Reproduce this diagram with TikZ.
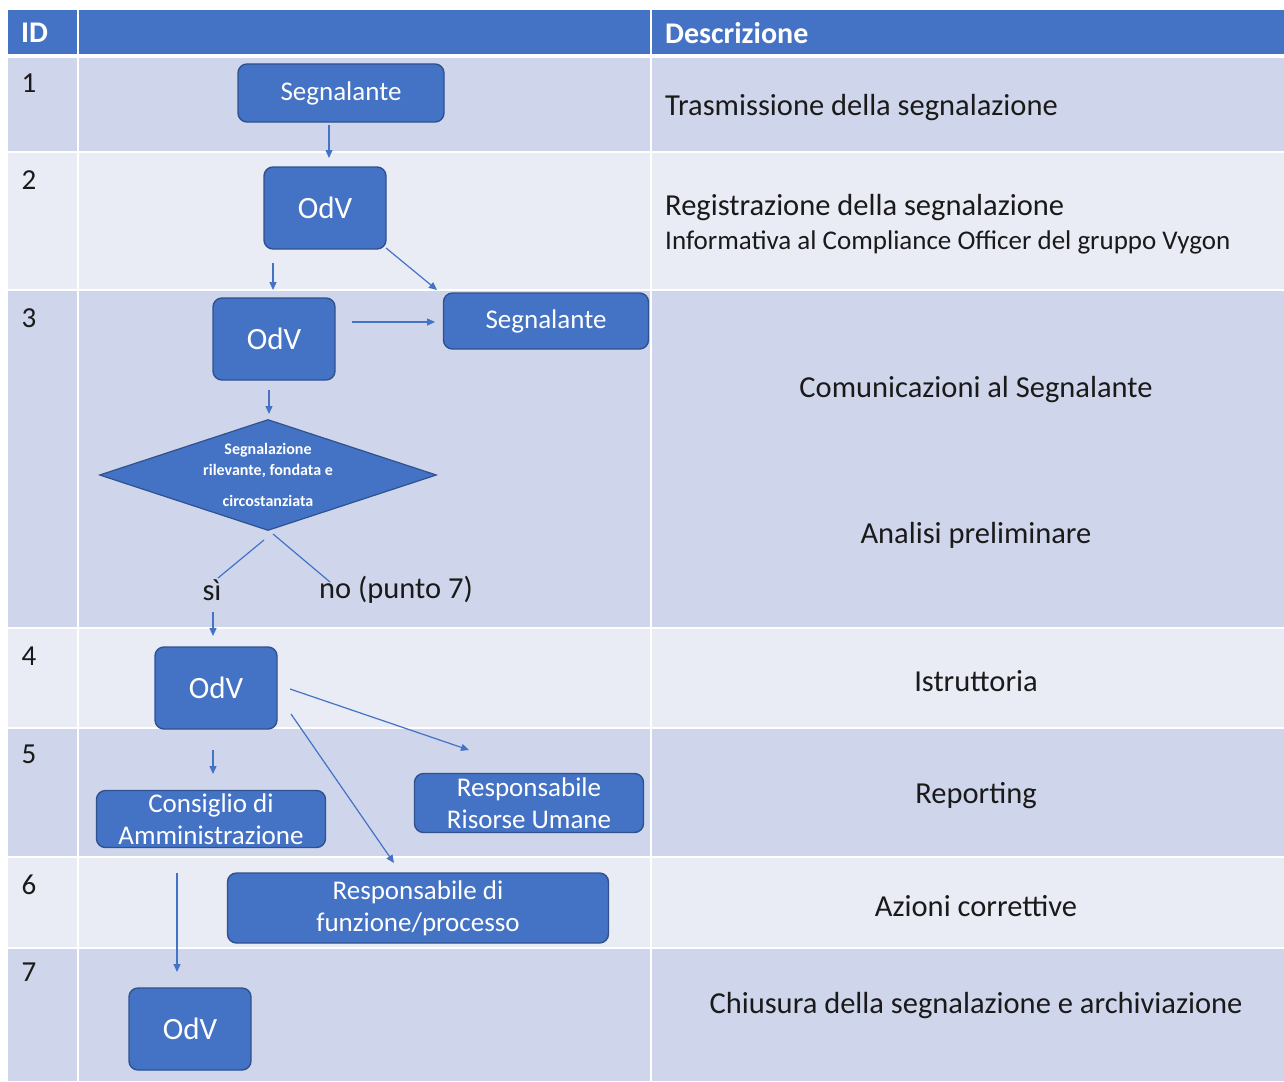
\documentclass[tikz,border=0pt]{standalone}
\usepackage{fontspec}
\setmainfont{Carlito}
\usepackage{xcolor}
\usetikzlibrary{shapes.geometric, arrows.meta}

\definecolor{boxblue}{HTML}{4472C4}
\definecolor{boxedge}{HTML}{2F528F}
\definecolor{banddark}{HTML}{CFD5EA}
\definecolor{bandlight}{HTML}{E9EBF5}
\definecolor{inkgray}{HTML}{1A1A1A}

\begin{document}
\begin{tikzpicture}[x=1pt, y=-1pt,
        box/.style={rectangle, rounded corners=9pt, draw=boxedge, line width=1.4pt, fill=boxblue,
            text=white, inner sep=0pt, align=center, font=\fontsize{27}{32}\selectfont},
        odv/.style={box, minimum width=122, minimum height=82, font=\fontsize{31}{34}\selectfont},
        choice/.style={diamond, aspect=3.04, draw=boxedge, line width=1.2pt, fill=boxblue, text=white,
            inner sep=0pt, minimum width=337, minimum height=111, align=center,
            font=\fontsize{16}{21}\selectfont\bfseries},
        desc/.style={text=inkgray, inner sep=0pt, font=\fontsize{30.5}{34}\selectfont},
        small/.style={text=inkgray, inner sep=0pt, font=\fontsize{27}{30}\selectfont},
        idnum/.style={text=inkgray, inner sep=0pt, font=\fontsize{29}{32}\selectfont},
        head/.style={text=white, inner sep=0pt, font=\fontsize{30}{32}\selectfont\bfseries},
        arrow/.style={draw=boxblue, line width=1.2pt, -{Triangle[width=7pt,length=8pt]}},
        link/.style={draw=boxblue, line width=1.2pt}
    ]
    \useasboundingbox (0,0) rectangle (1284,1081);
    \fill[white] (0,0) rectangle (1284,1081);

    % table bands
    \fill[boxblue] (8,10) rectangle (1284,55);
    \fill[banddark] (8,55) rectangle (1284,152);
    \fill[bandlight] (8,152) rectangle (1284,290);
    \fill[banddark] (8,290) rectangle (1284,628);
    \fill[bandlight] (8,628) rectangle (1284,728);
    \fill[banddark] (8,728) rectangle (1284,857);
    \fill[bandlight] (8,857) rectangle (1284,948);
    \fill[banddark] (8,948) rectangle (1284,1081);
    \draw[white, line width=4pt] (8,56) -- (1284,56);
    \foreach \y in {152,290,628,728,857,948}
        \draw[white, line width=2pt] (8,\y) -- (1284,\y);
    \draw[white, line width=2.5pt] (78,10) -- (78,1081);
    \draw[white, line width=2.5pt] (651,10) -- (651,1081);

    \node[head, anchor=west] (hid) at (21,33) {ID};
    \node[head, anchor=west] (hdesc) at (665,33) {Descrizione};

    \node[idnum] (id1) at (29,83) {1};
    \node[idnum] (id2) at (29,180) {2};
    \node[idnum] (id3) at (29,318) {3};
    \node[idnum] (id4) at (29,656) {4};
    \node[idnum] (id5) at (29,754) {5};
    \node[idnum] (id6) at (29,885) {6};
    \node[idnum] (id7) at (29,972) {7};

    % descriptions
    \node[desc, anchor=west] (d1) at (665,108) {Trasmissione della segnalazione};
    \node[desc, anchor=west] (d2) at (665,208) {Registrazione della segnalazione};
    \node[small, anchor=west] (d2b) at (665,242) {Informativa al Compliance Officer del gruppo Vygon};
    \node[desc] (d3) at (976,390) {Comunicazioni al Segnalante};
    \node[desc] (d3b) at (976,535) {Analisi preliminare};
    \node[desc] (d4) at (976,681) {Istruttoria};
    \node[desc] (d5) at (976,796) {Reporting};
    \node[desc] (d6) at (976,906) {Azioni correttive};
    \node[desc] (d7) at (976,1006) {Chiusura della segnalazione e archiviazione};

    % flow
    \node[box, minimum width=206, minimum height=58] (seg1) at (341,93) {Segnalante};
    \node[odv] (odv2) at (325,208) {OdV};
    \node[box, minimum width=205, minimum height=56] (seg3) at (546,321) {Segnalante};
    \node[odv] (odv3) at (274,339) {OdV};
    \node[choice] (check) at (268,475) {Segnalazione\\rilevante, fondata e\\[10pt]circostanziata};
    \node[desc] (yes) at (212,590) {sì};
    \node[desc] (no) at (396,590) {no (punto 7)};
    \node[odv] (odv4) at (216,688) {OdV};
    \node[box, minimum width=229, minimum height=57] (cda) at (211,819) {Consiglio di\\Amministrazione};
    \node[box, minimum width=229, minimum height=59] (hr) at (529,803) {Responsabile\\Risorse Umane};
    \node[box, minimum width=381, minimum height=70] (func) at (418,908) {Responsabile di\\funzione/processo};
    \node[odv] (odv7) at (190,1029) {OdV};

    \coordinate (a1s) at (329,125);  \coordinate (a1e) at (329,158);
    \coordinate (a2s) at (273,263);  \coordinate (a2e) at (273,290);
    \coordinate (a3s) at (386,248);  \coordinate (a3e) at (437,290);
    \coordinate (a4s) at (352,322);  \coordinate (a4e) at (435,322);
    \coordinate (a5s) at (269,390);  \coordinate (a5e) at (269,414);
    \coordinate (l1s) at (264,540);  \coordinate (l1e) at (218,578);
    \coordinate (l2s) at (273,534);  \coordinate (l2e) at (330,582);
    \coordinate (a6s) at (213,612);  \coordinate (a6e) at (213,636);
    \coordinate (a7s) at (290,689);  \coordinate (a7e) at (469,750);
    \coordinate (a8s) at (291,714);  \coordinate (a8e) at (394,863);
    \coordinate (a9s) at (213,750);  \coordinate (a9e) at (213,774);
    \coordinate (a10s) at (177,873); \coordinate (a10e) at (177,972);

    \draw[arrow] (a1s) -- (a1e);
    \draw[arrow] (a2s) -- (a2e);
    \draw[arrow] (a3s) -- (a3e);
    \draw[arrow] (a4s) -- (a4e);
    \draw[arrow] (a5s) -- (a5e);
    \draw[link] (l1s) -- (l1e);
    \draw[link] (l2s) -- (l2e);
    \draw[arrow] (a6s) -- (a6e);
    \draw[arrow] (a7s) -- (a7e);
    \draw[arrow] (a8s) -- (a8e);
    \draw[arrow] (a9s) -- (a9e);
    \draw[arrow] (a10s) -- (a10e);
\end{tikzpicture}
\end{document}
